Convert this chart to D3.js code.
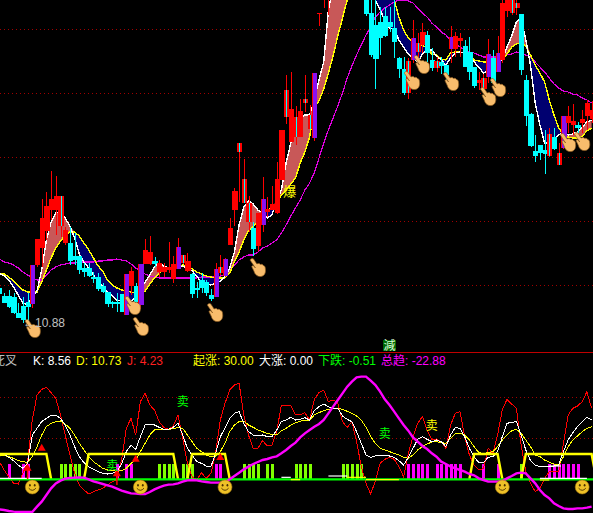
<!DOCTYPE html>
<html><head><meta charset="utf-8">
<script src="https://cdnjs.cloudflare.com/ajax/libs/d3/7.8.5/d3.min.js"></script>
<style>html,body{margin:0;padding:0;background:#000;overflow:hidden}svg{display:block}
text{font-family:"Liberation Sans","Noto Sans CJK SC",sans-serif;font-size:12px}</style>
</head><body><div id="c"></div>
<script>
// bars run from index -1 (cut by the left edge) to 125
const firstBar=-1;
const priceOpen=[14.4,13.6,13.6,13.5,11.9,12.6,13.0,12.8,16.7,18.4,20.1,22.2,22.2,20.6,18.9,18.9,17.6,17.6,16.4,16.4,15.5,15.5,14.6,14.0,13.0,13.0,13.8,11.7,14.6,14.6,12.7,16.8,16.8,17.1,16.0,16.0,16.2,15.3,16.3,16.9,16.1,15.8,14.4,15.2,15.0,13.7,13.5,15.9,15.6,18.7,22.2,28.0,22.9,21.0,20.4,18.6,20.7,22.0,22.2,21.9,25.2,31.5,29.0,29.5,29.5,32.9,30.3,29.4,41.8,43.5,44.0,44.5,45.0,46.2,45.6,46.4,45.6,45.0,43.7,41.9,40.7,41.0,41.6,41.0,40.4,37.4,36.3,33.9,37.2,38.0,38.7,39.7,37.2,36.4,37.0,36.7,38.3,38.3,39.1,38.6,38.0,36.5,34.9,34.3,35.5,37.4,36.0,37.2,42.1,41.9,42.4,41.8,35.2,31.8,28.1,28.7,28.2,27.6,29.5,26.7,28.4,30.9,30.7,30.7,30.9,31.6,31.3];
const priceClose=[13.8,12.9,12.5,11.9,11.4,11.2,12.5,16.7,19.3,21.4,22.6,23.3,23.6,23.6,20.2,17.1,17.2,16.2,16.0,15.6,15.3,14.3,14.0,12.8,12.8,12.8,12.0,15.8,16.1,13.0,16.8,18.2,18.0,16.8,16.9,16.5,16.5,16.8,18.5,17.7,17.1,13.8,14.2,14.4,13.9,13.3,16.3,16.5,17.3,20.4,24.1,28.9,25.3,22.9,18.3,21.9,23.3,22.3,22.8,25.3,30.2,34.2,32.3,31.5,32.1,33.3,31.7,35.9,41.9,44.2,45.2,45.8,46.0,45.4,46.6,45.5,44.9,44.4,41.8,37.7,37.3,39.4,39.6,40.5,39.0,36.3,33.9,37.1,39.4,38.9,40.0,37.9,36.4,37.1,36.6,35.7,39.5,39.6,39.4,36.5,36.0,34.6,35.2,35.4,37.8,34.9,37.9,42.9,43.7,43.5,42.9,36.2,31.6,28.6,27.6,27.9,27.8,29.8,28.3,27.9,31.6,31.6,31.1,30.4,31.3,32.9,32.2];
const priceHigh=[14.7,13.9,14.2,13.9,12.9,13.5,13.9,16.7,19.3,23.3,24.0,26.1,25.6,23.6,20.5,20.5,19.9,17.6,16.9,16.9,16.0,15.9,14.9,14.0,13.1,13.9,13.8,15.8,16.5,14.9,16.8,19.3,19.6,17.5,17.2,16.9,19.0,17.6,19.4,17.7,17.9,15.9,15.0,15.9,15.2,14.3,16.9,17.7,17.4,21.4,24.4,28.9,27.3,23.6,21.0,21.9,25.5,23.5,24.6,27.0,30.2,35.7,36.0,32.6,33.3,35.7,32.7,35.9,41.9,44.7,45.7,46.2,46.6,46.8,47.0,46.9,46.0,45.3,44.0,43.7,43.2,42.5,42.5,42.5,43.2,37.5,37.5,37.4,41.2,39.9,40.9,40.1,38.4,37.5,37.5,36.7,40.6,40.0,39.9,39.2,39.5,36.5,36.0,35.8,39.3,38.2,39.6,43.5,44.0,43.7,43.5,41.8,35.7,31.9,29.7,28.7,30.2,30.4,30.4,28.9,31.6,32.6,32.8,31.0,32.2,33.2,33.1];
const priceLow=[13.6,12.9,12.4,11.8,11.4,10.9,11.0,12.4,16.5,16.5,19.2,21.2,19.7,19.5,18.7,16.7,16.7,15.8,15.5,15.5,14.9,14.1,13.9,12.5,12.4,12.0,12.0,11.7,13.7,12.9,12.3,16.8,16.7,16.5,15.5,15.5,15.9,14.9,16.3,16.8,16.0,13.4,13.4,13.9,13.6,13.1,13.5,15.7,15.5,18.7,20.6,23.0,22.9,20.0,17.6,18.1,20.0,21.5,22.2,21.8,25.2,30.8,29.0,28.7,29.5,32.0,30.3,29.1,40.6,42.4,41.7,44.2,44.6,45.0,45.2,45.0,44.6,44.2,41.6,37.5,34.3,37.7,39.5,40.0,37.4,35.4,33.7,33.3,36.9,37.0,37.9,37.0,36.1,36.0,35.8,35.0,36.9,37.5,37.5,36.5,35.2,34.4,34.2,33.9,34.9,34.9,36.0,36.9,41.5,41.7,41.7,35.7,30.6,28.5,27.0,27.2,25.8,27.5,28.2,26.7,28.3,29.9,29.7,29.9,29.9,30.2,30.9];
const purpleBars=[6,26,29,37,45,47,55,66,87,95,103,105,119];
const inlaidBars=[12,38,46,50,51,52,60,62,64,65,86,88,92,102,108,109,116,118];
const maLong=[17.3,17.0,16.9,16.7,16.4,16.0,15.7,15.4,15.2,15.2,15.7,16.2,16.5,16.7,16.8,16.9,16.9,17.0,17.0,17.0,17.0,17.1,17.1,17.2,17.2,17.3,17.2,17.1,16.8,16.4,16.1,15.8,15.6,15.5,15.4,15.4,15.4,15.4,15.4,15.4,15.4,15.4,15.4,15.5,15.5,15.5,15.5,15.6,15.7,16.3,16.7,17.2,17.5,17.7,17.7,18.0,18.4,18.6,18.9,19.2,19.9,20.7,21.6,22.4,23.2,24.2,24.9,25.9,27.4,28.9,30.2,31.4,32.6,33.9,35.4,36.6,37.7,38.7,39.7,40.5,41.5,42.0,42.4,42.7,43.0,43.2,43.2,43.1,42.9,42.4,41.9,41.5,40.9,40.5,40.0,39.7,39.1,38.8,38.5,38.2,38.0,37.9,37.7,37.5,37.5,37.5,37.5,37.6,37.7,37.8,38.0,37.9,37.7,37.5,37.0,36.5,36.0,35.4,34.8,34.4,34.1,34.0,33.8,33.7,33.4,33.2,32.9];
const maFast=[15.9,15.6,15.2,14.5,13.7,12.9,12.7,13.5,14.1,16.2,19.2,21.0,21.9,22.1,21.4,20.6,19.4,17.8,17.0,16.4,15.7,15.0,14.6,14.0,13.6,13.2,13.1,13.1,13.0,13.5,14.4,15.0,15.7,16.5,16.9,16.6,16.4,16.4,16.5,16.6,16.4,16.1,15.6,14.9,14.8,14.7,14.9,15.1,15.5,16.4,18.0,20.7,22.5,23.1,22.8,22.2,21.9,21.4,21.7,23.2,24.2,26.9,28.9,30.2,31.4,31.7,31.7,33.2,35.2,37.0,42.2,44.4,45.2,45.7,46.0,46.2,46.2,46.2,45.7,44.4,43.2,42.2,41.2,40.4,40.3,39.2,38.5,37.8,37.4,37.0,37.8,38.2,38.2,37.6,37.2,36.7,37.4,37.9,38.0,37.9,37.6,37.0,36.5,35.9,36.2,36.6,36.9,37.3,38.5,39.6,41.0,41.4,39.2,36.7,32.9,30.7,28.9,28.9,29.2,29.7,30.0,29.7,29.8,30.0,30.5,31.0,31.2];
const maSlow=[15.9,15.8,15.5,15.1,14.6,14.2,14.0,14.0,14.0,15.0,16.2,17.4,18.4,19.1,19.7,20.0,20.0,19.6,18.9,18.2,17.4,16.6,16.1,15.2,14.7,14.4,14.2,14.1,14.0,13.9,13.8,14.1,14.8,15.4,15.9,16.2,16.4,16.5,16.6,16.7,16.6,16.3,16.0,15.8,15.6,15.5,15.4,15.4,15.4,15.9,17.0,18.0,19.2,20.1,20.6,21.1,22.0,22.2,22.4,22.9,23.7,24.2,24.8,25.4,26.9,28.0,29.5,32.4,33.1,34.3,35.9,37.6,39.6,41.4,43.2,44.4,45.4,46.0,46.2,46.0,45.6,45.0,44.4,43.8,43.2,41.5,40.2,39.4,38.9,38.7,38.7,38.4,37.8,37.7,37.3,37.2,37.9,38.0,38.0,37.9,37.7,37.2,37.1,37.0,37.0,37.0,37.2,37.3,37.8,38.5,38.8,38.9,38.6,37.7,36.7,35.9,35.0,33.2,31.7,30.4,29.7,29.5,29.4,29.4,29.6,30.1,30.4];
const priceGrid=[40.3,33.9,27.5,21.1,14.7];
const oscGrid=[246,123];
const oscJ=[52,27,7,-13,-15,17,52,177,252,269,275,259,242,192,132,72,17,-18,-33,-45,-38,-33,-28,-18,-8,-3,57,152,182,132,232,257,222,207,172,154,149,159,192,122,47,7,-3,19,2,17,77,177,227,267,282,287,192,132,92,92,115,99,102,142,222,222,220,192,193,199,177,239,259,267,232,237,229,172,155,172,112,37,-13,-45,-5,47,59,65,59,37,7,77,127,167,187,147,119,119,112,92,162,197,202,127,72,42,27,32,92,77,132,207,239,225,212,102,22,-13,-38,-28,2,22,22,22,107,192,212,219,232,262,212];
const oscK=[77,75,65,55,42,32,47,132,152,172,182,191,192,182,162,132,97,67,49,37,29,22,17,15,17,22,45,82,102,89,127,162,165,162,155,149,149,155,167,132,92,72,52,47,39,37,77,127,152,182,197,202,167,142,132,129,132,127,127,147,172,177,185,177,179,184,177,205,217,225,217,212,212,189,179,172,142,107,72,65,69,72,72,69,65,55,42,65,92,119,127,119,112,117,112,97,132,155,152,127,92,67,49,49,65,67,82,127,167,170,172,132,87,55,42,37,37,37,39,42,82,117,139,157,172,185,177];
const oscD=[72,71,67,62,55,52,50,67,97,132,157,167,172,174,165,152,132,107,87,67,52,42,32,27,25,23,25,32,47,57,82,107,132,147,149,149,149,151,155,152,132,112,92,82,72,67,69,82,107,142,162,172,174,162,155,147,142,137,134,132,145,152,162,169,173,177,177,192,199,205,209,211,212,209,203,197,189,177,155,127,107,92,87,82,77,72,65,62,72,87,97,105,111,112,109,107,122,135,137,132,117,97,79,77,79,82,97,117,132,145,149,137,117,97,72,67,57,50,45,42,67,97,117,129,142,152,157];
const oscTrend=[-91,-93,-96,-98,-99,-99,-99,-99,-83,-68,-48,-28,-13,-5,1,3,4,5,4,-1,-7,-11,-15,-19,-23,-29,-35,-39,-43,-44,-45,-45,-39,-31,-25,-20,-17,-16,-13,-8,-4,-3,-4,-7,-9,-11,-11,-11,-10,-1,9,19,29,37,45,51,57,60,65,68,77,87,99,109,125,137,147,157,165,177,197,217,237,257,277,292,305,307,307,295,282,262,239,222,202,182,162,145,125,112,99,90,77,67,52,45,37,32,27,22,15,11,2,-3,-8,-8,-8,-6,2,9,17,19,17,2,-13,-33,-48,-58,-73,-81,-88,-90,-90,-88,-88,-86,-83];
const greenBars=[12,13,14,15,16,33,34,35,36,38,39,40,51,52,53,54,56,57,62,63,64,65,72,73,74,75,76,110];
const pinkBars=[1,4,5,24,26,27,45,46,86,87,88,89,90,92,93,94,95,96,97,102,105,116,117,118,119,120,121,122];
const barLevel=[44];
const plateauSpans=[[-1,9],[18,36],[40,47],[100,105],[111,125]];
const plateauLevel=[75];
const flatBars=[[-1,8,2,"#fff"],[59,61,5,"#fff"],[61,63,-2,"#ff0"],[69,73,9,"#fff"],[73,77,5,"#ff0"],[77,84,-2,"#ff0"],[114,124,2,"#fff"],[114,116,-3,"#ff0"],[116,118.5,39,"#fff"]];
const triBars=[8,5,24,28,46];
const triVals=[92,32,15,59,64];
const triBase=[92,0,-18,59,64];
const smileBars=[6,29,47,106,123];
const smileLevel=[-24];
const handBars=[6.1,27.4,29.1,44.9,54,86.8,88.9,95.1,103,105.1,120,123];
const handPrices=[10.3,12.6,10.5,11.9,16.4,35.1,36.7,35.0,33.5,34.4,28.9,29.0];
const sellBars=[38,23,81,91];
const sellVals=[234,42,138,162];
const sellColors=["#00ff00","#00ff00","#00ff00","#ffff00"];
const headerTexts=["死叉","K: 8.56","D: 10.73","J: 4.23","起涨: 30.00","大涨: 0.00","下跌: -0.51","总趋: -22.88"];
const headerColors=["#c0c0c0","#ffffff","#ffff00","#ff2020","#ffff00","#ffffff","#00ff00","#ff00ff"];
const headerX=[-7,33,76,127,193,259,318,381];

const W=593,H=513;
const svg=d3.select("#c").append("svg").attr("width",W).attr("height",H).style("background","#000");
const x=d3.scaleLinear().domain([0,125]).range([4.1,591.6]);
const py=d3.scaleLinear().domain([43.2,8]).range([0,352]);
const oy=d3.scaleLinear().domain([0,246]).range([479,397]);
const bars=d3.range(firstBar,126);
const idx=b=>b-firstBar;
svg.append("defs").append("clipPath").attr("id","top").append("rect").attr("width",W).attr("height",352);
svg.select("defs").append("clipPath").attr("id","low").append("rect").attr("y",353).attr("width",W).attr("height",160);

// ---- upper pane
const up=svg.append("g").attr("clip-path","url(#top)");
up.selectAll(".g").data(priceGrid).join("line").attr("x1",0).attr("x2",W)
  .attr("y1",d=>Math.round(py(d))+.5).attr("y2",d=>Math.round(py(d))+.5)
  .attr("stroke","#a00000").attr("stroke-dasharray","1 3");
const ribbon=(fill,pick)=>up.append("path").attr("fill",fill)
  .attr("d",d3.area().x(b=>x(b)).y0(b=>py(maSlow[idx(b)])).y1(b=>pick(py(maFast[idx(b)]),py(maSlow[idx(b)])))(bars));
ribbon("#c85858",Math.min);
ribbon("#000070",Math.max);
const priceLine=(arr,color,w)=>up.append("path").attr("fill","none").attr("stroke",color).attr("stroke-width",w)
  .attr("shape-rendering","crispEdges").attr("d",d3.line().x(b=>x(b)).y(b=>py(arr[idx(b)]))(bars));
priceLine(maLong,"#e000e0",1.2);
priceLine(maSlow,"#ffff00",1.4);
priceLine(maFast,"#ffffff",1.4);

const candles=up.append("g").attr("shape-rendering","crispEdges");
bars.forEach(b=>{
  const i=idx(b),o=priceOpen[i],c=priceClose[i],rising=c>=o;
  const purple=purpleBars.includes(b),inlaid=inlaidBars.includes(b);
  const col=rising?"#ff0000":"#00ffff";
  const cx=Math.round(x(b));
  const left=Math.round(x(b)-2.1),bodyW=Math.round(x(b)+2.1)-left+1;
  candles.append("rect").attr("x",cx).attr("width",1).attr("y",py(priceHigh[i])).attr("height",py(priceLow[i])-py(priceHigh[i])).attr("fill",col);
  const top=py(Math.max(o,c)),h=Math.max(1,Math.abs(py(o)-py(c)));
  candles.append("rect").attr("x",left).attr("width",bodyW).attr("y",top).attr("height",h).attr("fill",purple?"#ff0000":col);
  if(purple)candles.append("rect").attr("x",left+1).attr("width",bodyW-1).attr("y",top).attr("height",h).attr("fill","#8a10f0");
  if(inlaid)candles.append("rect").attr("x",cx).attr("width",1).attr("y",top).attr("height",h).attr("fill","#00ffff");
});
// ---- hands
const hand=svg.append("g");
handBars.forEach((b,i)=>{
  hand.append("path").attr("transform",`translate(${x(b)},${py(handPrices[i])})`)
   .attr("d","M-7,-9 C-6,-10 -4.5,-9.5 -4,-8.5 L-1,-4 C0,-5 2,-4.5 2.5,-3.5 C3.5,-4 5,-3.5 5.5,-2.5 C6.5,-2.5 7.5,-1 7.5,1 C8,4 7,8 3,8.5 C0,9 -3,7 -4,3 L-6,-1 C-6.5,-2 -5,-3 -3.5,-1.5 L-2.5,0 L-7.5,-7.5 C-8,-8 -7.5,-8.5 -7,-9 Z")
   .attr("fill","#f8bc6c").attr("stroke","#8a5a20").attr("stroke-width",.7);
});
svg.append("text").attr("x",23).attr("y",327).attr("fill","#c0c0c0").text("←10.88");
svg.append("text").attr("x",x(60.8)).attr("y",py(24.1)+5).attr("text-anchor","middle").attr("fill","#ffff00").style("font-size","13px").text("爆");
// ---- header strip
svg.append("rect").attr("x",383).attr("y",340).attr("width",13).attr("height",11).attr("fill","#006400");
svg.append("text").attr("x",389.5).attr("y",350).attr("text-anchor","middle").attr("fill","#d8ffd8").text("減");
svg.append("line").attr("x1",0).attr("x2",W).attr("y1",352.5).attr("y2",352.5).attr("stroke","#c00000");
headerTexts.forEach((t,i)=>svg.append("text").attr("x",headerX[i]).attr("y",365).attr("fill",headerColors[i]).text(t));

// ---- lower pane
const lo=svg.append("g").attr("clip-path","url(#low)");
lo.selectAll(".g").data(oscGrid).join("line").attr("x1",0).attr("x2",W)
  .attr("y1",d=>Math.round(oy(d))+.5).attr("y2",d=>Math.round(oy(d))+.5)
  .attr("stroke","#a00000").attr("stroke-dasharray","1 3");
const vbars=(list,color)=>lo.append("g").attr("shape-rendering","crispEdges").selectAll("rect").data(list).join("rect")
  .attr("x",b=>Math.round(x(b))-1).attr("width",3).attr("y",oy(barLevel[0])).attr("height",oy(0)-oy(barLevel[0])).attr("fill",color);
vbars(greenBars,"#80ff00");
vbars(pinkBars,"#ff00ff");
const oscLine=(arr,color,w,crisp)=>lo.append("path").attr("fill","none").attr("stroke",color).attr("stroke-width",w)
  .attr("shape-rendering",crisp?"crispEdges":"auto").attr("d",d3.line().x(b=>x(b)).y(b=>oy(arr[idx(b)]))(bars));
oscLine(oscJ,"#ff0000",1,true);
oscLine(oscD,"#ffff00",1,true);
oscLine(oscK,"#ffffff",1,true);
plateauSpans.forEach(([a,b])=>{
  const pts=[[a-1,0],[a,plateauLevel[0]],[b,plateauLevel[0]],[b+1,0]];
  lo.append("path").attr("fill","none").attr("stroke","#ffff00").attr("stroke-width",2.4)
    .attr("d",d3.line().x(d=>x(d[0])).y(d=>oy(d[1]))(pts));
});
lo.append("line").attr("x1",0).attr("x2",W).attr("y1",oy(-1)).attr("y2",oy(-1)).attr("stroke","#00ff00").attr("stroke-width",2.2);
flatBars.forEach(([a,b,v,c])=>lo.append("line").attr("x1",x(a)).attr("x2",x(b)).attr("y1",oy(v)).attr("y2",oy(v)).attr("stroke",c).attr("stroke-width",1.2));
oscLine(oscTrend,"#ff00ff",2.4,false);
triBars.forEach((b,i)=>{
  lo.append("line").attr("x1",x(b)).attr("x2",x(b)).attr("y1",oy(triVals[i])).attr("y2",oy(triBase[i])).attr("stroke","#ff0000").attr("stroke-width",1.5);
  lo.append("path").attr("transform",`translate(${x(b)},${oy(triVals[i])})`).attr("d",d3.symbol(d3.symbolTriangle,28)()).attr("fill","#ff0000");
});
sellBars.forEach((b,i)=>lo.append("text").attr("x",x(b)).attr("y",oy(sellVals[i])+5).attr("text-anchor","middle").attr("fill",sellColors[i]).text("卖"));
smileBars.forEach(b=>{
  const g=lo.append("g").attr("transform",`translate(${x(b)},${oy(smileLevel[0])})`);
  g.append("circle").attr("r",7).attr("fill","#eec127").attr("stroke","#a87c10").attr("stroke-width",.6);
  [-2.4,2.4].forEach(ex=>g.append("ellipse").attr("cx",ex).attr("cy",-1.8).attr("rx",.9).attr("ry",1.2).attr("fill","#4a3000"));
  g.append("path").attr("d","M-3.6,1.2 Q0,5.4 3.6,1.2").attr("fill","none").attr("stroke","#4a3000").attr("stroke-width",.9);
});
</script></body></html>
